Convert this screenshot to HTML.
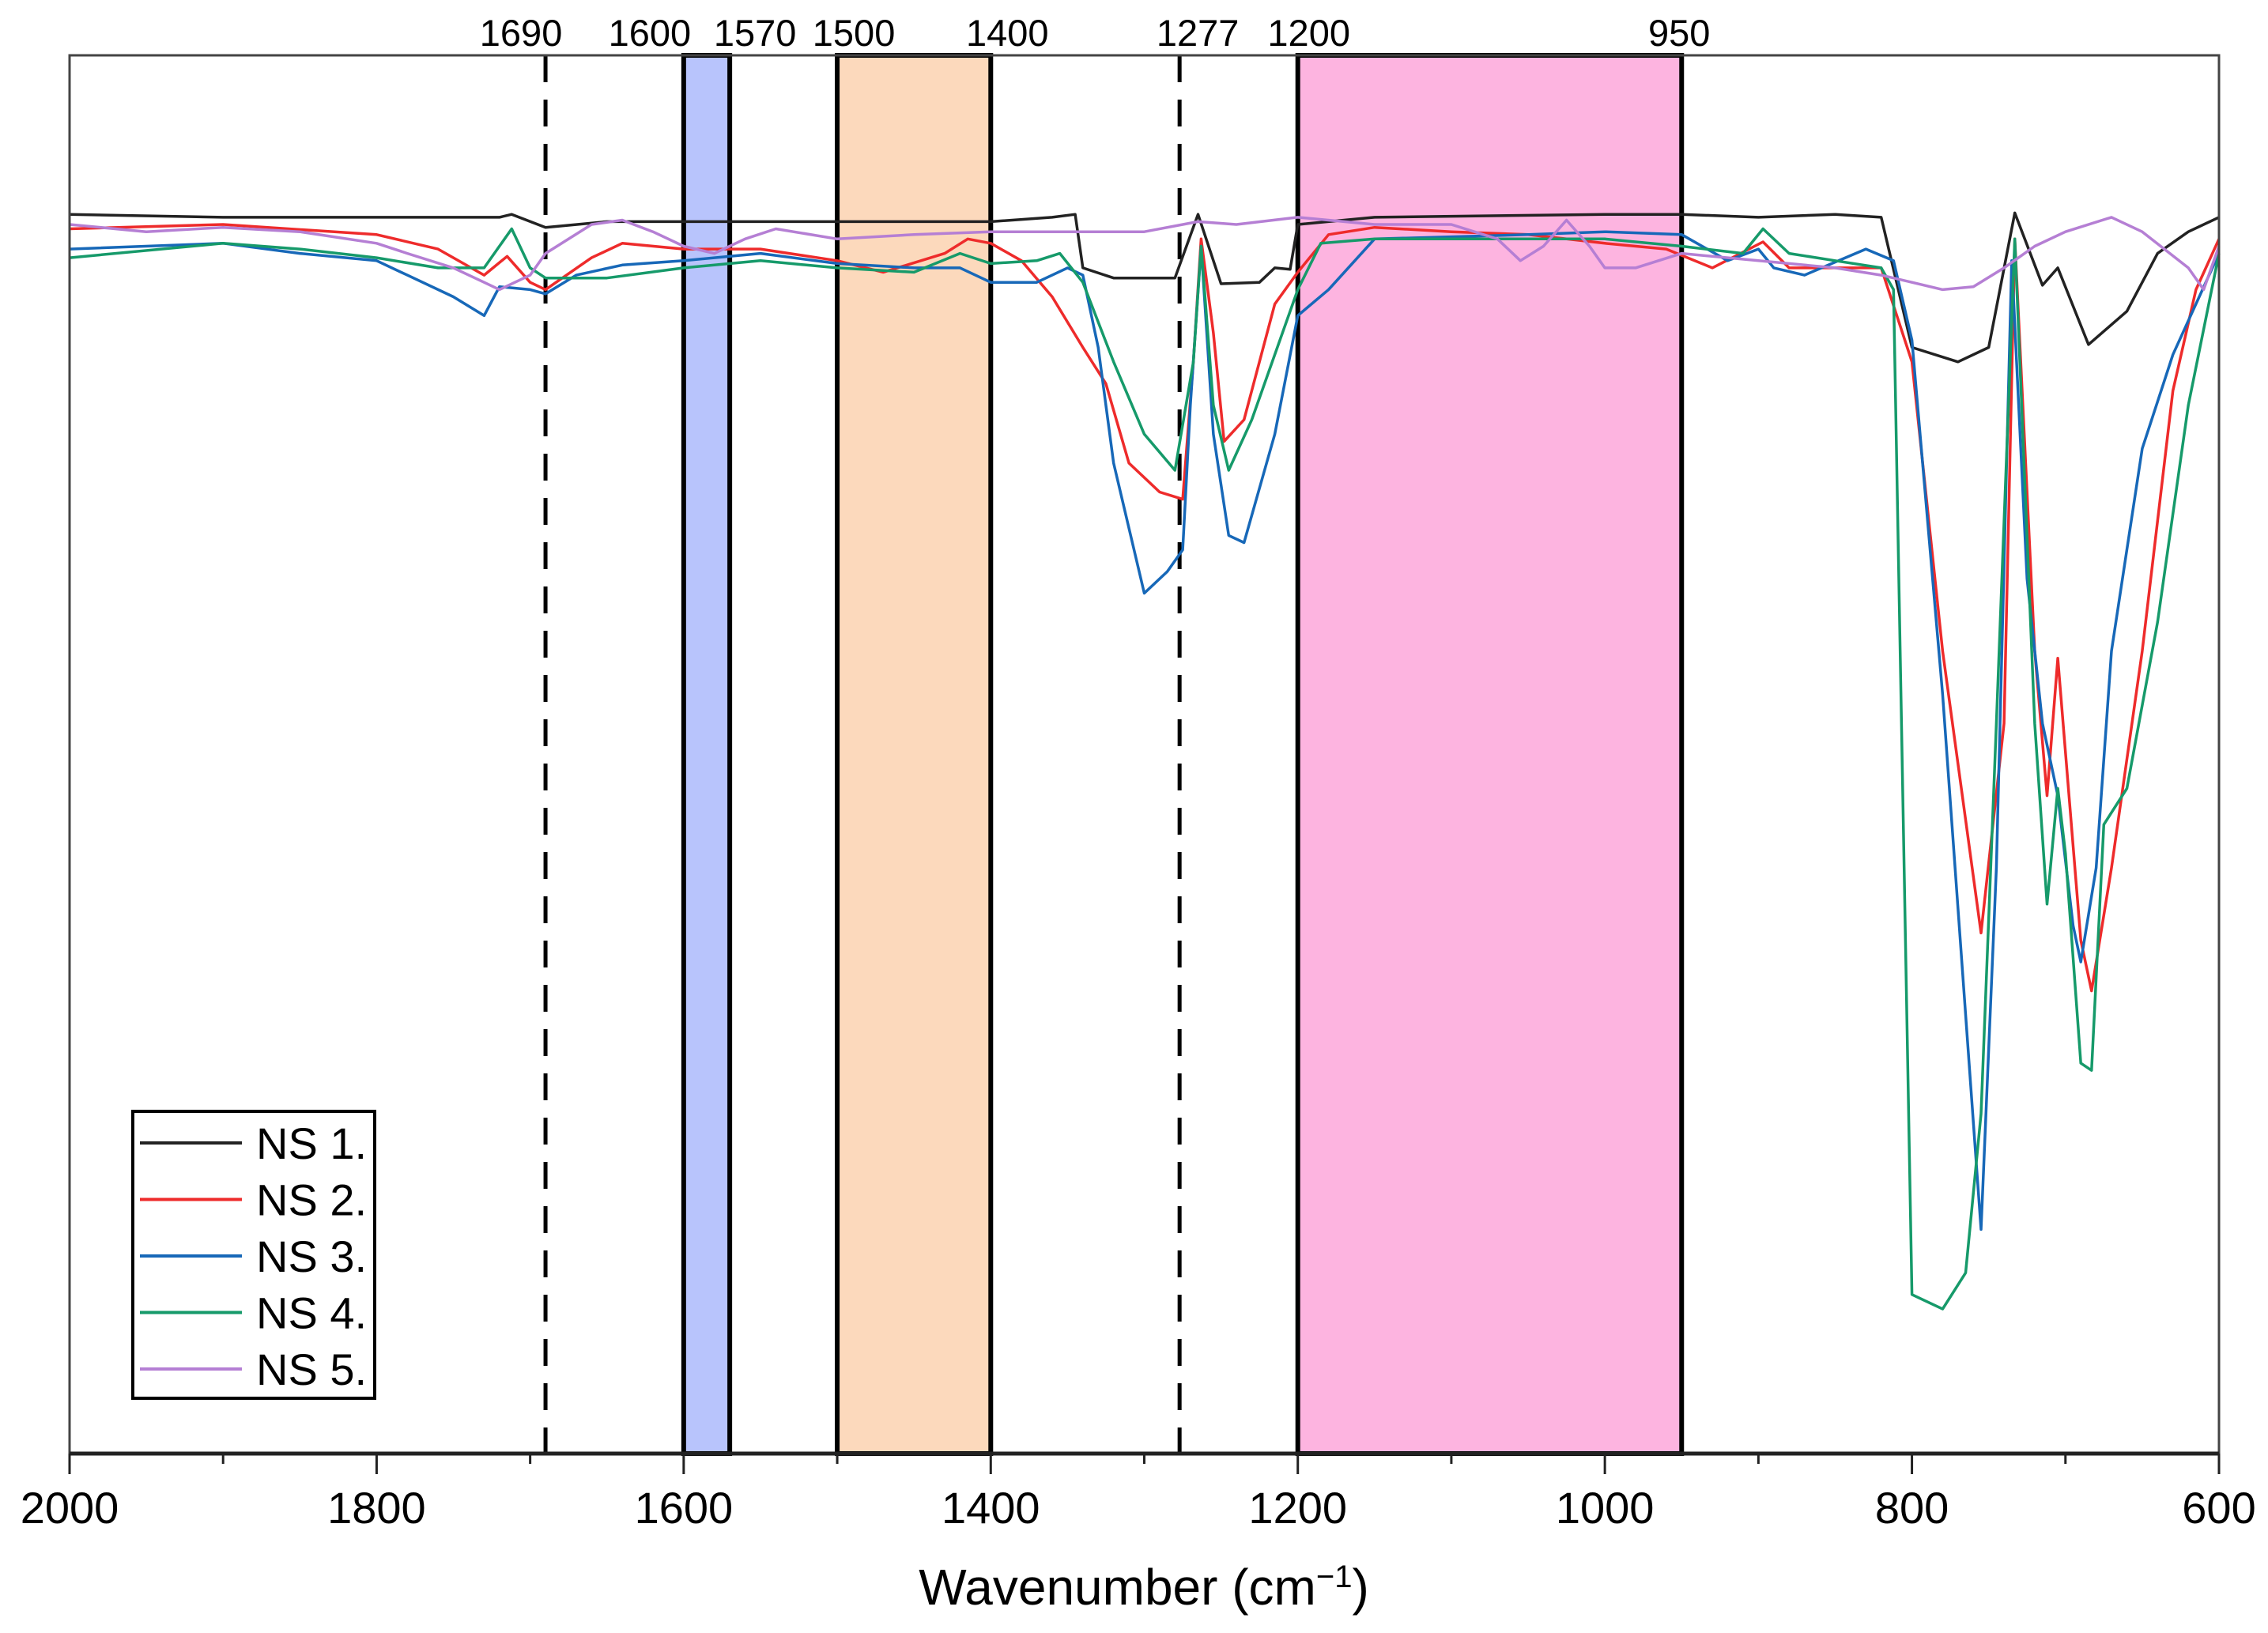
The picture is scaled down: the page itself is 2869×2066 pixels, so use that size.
<!DOCTYPE html>
<html><head><meta charset="utf-8"><style>
body{margin:0;background:#fff}
svg{display:block;font-family:"Liberation Sans",sans-serif}
</style></head><body>
<svg id="chart" width="2869" height="2066" viewBox="0 0 2869 2066" xmlns="http://www.w3.org/2000/svg">
<rect width="2869" height="2066" fill="#fff"/>
<g id="regions"></g>
<g id="series"></g>
<g id="axes"></g>
<g id="legend"></g>
</svg>
<script>
const xTicks=[2000,1800,1600,1400,1200,1000,800,600];
const minorTicks=[1900,1700,1500,1300,1100,900,700];
const bands=[[1600,1570,'#b8c4fc','band-1600-1570'],[1500,1400,'#fcd9bc','band-1500-1400'],[1200,950,'#fdb4e0','band-1200-950']];
const dashedLines=[1690,1277];
const topLabels=[[1690,'1690'],[1600,'1600'],[1570,'1570'],[1500,'1500'],[1400,'1400'],[1277,'1277'],[1200,'1200'],[950,'950']];
const seriesNames=['NS 1.','NS 2.','NS 3.','NS 4.','NS 5.'];
const seriesColors=['#222222','#ee2b2b','#1768b8','#169a6a','#b57fd4'];
const ns1wn=[2000,1900,1800,1720,1712,1690,1650,1550,1450,1400,1360,1345,1340,1320,1280,1265,1250,1225,1215,1205,1200,1150,1000,950,900,850,820,800,770,750,733,715,705,685,660,640,620,600];
const ns1=[857,855,855,855,857,848,852,852,852,852,855,857,820,813,813,857,809,810,820,819,850,855,857,857,855,857,855,765,755,765,858,808,820,767,790,830,845,855];
const ns2wn=[2000,1900,1800,1760,1730,1715,1700,1690,1660,1640,1600,1550,1500,1470,1430,1415,1400,1380,1360,1340,1325,1310,1290,1275,1268,1263,1255,1248,1235,1215,1200,1180,1150,1100,1050,1000,960,930,897,880,850,820,800,780,755,740,733,720,712,705,700,690,683,670,650,630,615,600];
const ns2=[847,850,843,833,815,828,810,805,827,837,833,833,825,817,830,840,837,825,800,765,740,685,665,660,755,840,775,700,715,795,817,843,848,845,843,837,833,820,838,820,820,820,755,555,360,505,840,555,455,550,485,355,320,405,555,735,805,840];
const ns3wn=[2000,1900,1850,1800,1780,1750,1730,1720,1700,1690,1670,1640,1600,1550,1500,1450,1420,1400,1370,1350,1340,1330,1320,1300,1285,1275,1270,1263,1255,1245,1235,1215,1200,1180,1150,1050,1000,950,920,900,890,870,830,812,800,780,755,745,735,725,715,705,695,690,680,670,650,630,600];
const ns3=[833,837,830,825,815,800,787,807,805,802,815,822,825,830,823,820,820,810,810,820,815,765,685,595,610,625,725,835,705,635,630,705,787,805,840,843,845,843,825,833,820,815,833,825,770,525,155,405,825,605,505,455,365,340,405,555,695,760,830];
const ns4wn=[2000,1900,1850,1800,1760,1730,1712,1700,1690,1650,1600,1550,1500,1450,1420,1400,1370,1355,1340,1320,1300,1280,1268,1263,1255,1245,1230,1210,1200,1185,1150,1000,950,910,897,880,850,820,812,800,780,765,755,745,733,720,712,705,700,690,683,675,660,640,620,600];
const ns4=[827,837,833,827,820,820,847,820,813,813,820,825,820,817,830,823,825,830,810,755,705,680,755,835,725,680,715,775,805,837,840,840,835,830,847,830,825,820,805,110,100,125,235,505,840,505,380,460,415,270,265,435,460,575,725,830];
const ns5wn=[2000,1950,1900,1850,1800,1780,1750,1730,1720,1700,1690,1660,1640,1620,1600,1580,1560,1540,1500,1450,1400,1360,1300,1265,1240,1200,1150,1100,1070,1055,1040,1025,1010,1000,980,950,900,850,820,800,780,760,740,720,700,670,650,620,610,600];
const ns5=[850,845,848,845,837,830,820,810,805,815,830,850,853,845,835,830,840,847,840,843,845,845,845,852,850,855,850,850,840,825,835,853,835,820,820,830,825,820,815,810,805,807,820,835,845,855,845,820,805,835];

const L=88,R=2807,T=70,B=1839;
const X=w=>L+(2000-w)/1400*(R-L);
const Y=v=>T+(967-v)*(B-T)/967;
const NS='http://www.w3.org/2000/svg';
function mk(tag,parent,attrs){const e=document.createElementNS(NS,tag);for(const k in attrs)e.setAttribute(k,attrs[k]);parent.appendChild(e);return e;}
const gR=document.getElementById('regions'),gS=document.getElementById('series'),gA=document.getElementById('axes'),gL=document.getElementById('legend');

bands.forEach(b=>{
  const r=mk('rect',gR,{x:X(b[0]),y:T,width:X(b[1])-X(b[0]),height:B-T,fill:b[2],stroke:'#000','stroke-width':6});
  
  
});
dashedLines.forEach(d=>{
  const l=mk('line',gR,{x1:X(d),x2:X(d),y1:T,y2:B,stroke:'#000','stroke-width':5,'stroke-dasharray':'34 22'});
  
  
});
const labelShift={'1690':-31,'1600':-43,'1570':32,'1500':21,'1400':21,'1277':23,'1200':14,'950':-3};
topLabels.forEach(t=>{
  const e=mk('text',gA,{x:X(t[0])+labelShift[t[1]],y:58,'font-size':47,'text-anchor':'middle',fill:'#000'});
  e.textContent=t[1];
  
  
});

const wns=[ns1wn,ns2wn,ns3wn,ns4wn,ns5wn],vals=[ns1,ns2,ns3,ns4,ns5];
vals.forEach((v,i)=>{
  const d=v.map((val,j)=>(j?'L':'M')+X(wns[i][j]).toFixed(1)+','+Y(val).toFixed(1)).join(' ');
  const p=mk('path',gS,{d:d,fill:'none',stroke:seriesColors[i],'stroke-width':3.5,'stroke-linejoin':'round'});
  
  
});

const frame=mk('rect',gA,{x:L,y:T,width:R-L,height:B-T,fill:'none',stroke:'#444','stroke-width':3});


const bax=mk('line',gA,{x1:L,x2:R,y1:B,y2:B,stroke:'#222','stroke-width':5});


xTicks.forEach(t=>{
  const l=mk('line',gA,{x1:X(t),x2:X(t),y1:B,y2:B+26,stroke:'#222','stroke-width':3});
  
  
  const e=mk('text',gA,{x:X(t),y:1927,'font-size':56,'text-anchor':'middle',fill:'#000'});
  e.textContent=t;
  
  
});
minorTicks.forEach(t=>{
  const l=mk('line',gA,{x1:X(t),x2:X(t),y1:B,y2:B+13,stroke:'#222','stroke-width':3});
  
  
});
const title=mk('text',gA,{x:1447,y:2030,'font-size':64,'text-anchor':'middle',fill:'#000'});
title.innerHTML='Wavenumber (cm<tspan dy="-22" font-size="40">−1</tspan><tspan dy="22">)</tspan>';



const lb=mk('rect',gL,{x:168,y:1406,width:306,height:363,fill:'#fff',stroke:'#000','stroke-width':4});


seriesNames.forEach((n,i)=>{
  const y=1446+i*71.5;
  const l=mk('line',gL,{x1:177,x2:306,y1:y,y2:y,stroke:seriesColors[i],'stroke-width':4});
  
  
  const e=mk('text',gL,{x:324,y:y+20,'font-size':56,fill:'#000'});
  e.textContent=n;
  
  
});
</script>
</body></html>
